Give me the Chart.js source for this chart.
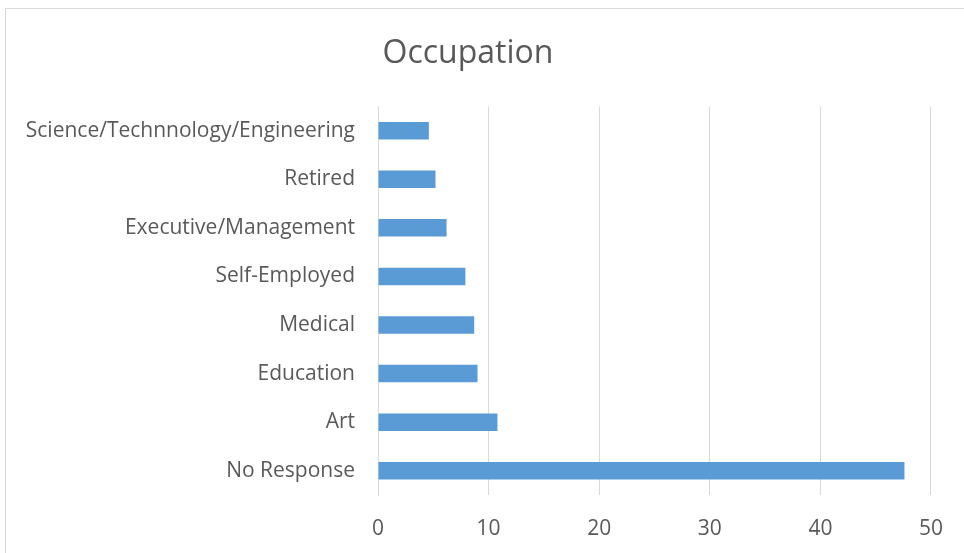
<!DOCTYPE html>
<html lang="en">
<head>
    <meta charset="UTF-8">
    <title>Occupation</title>
    <script src="https://cdn.jsdelivr.net/npm/chart.js"></script>
    <style>
        body { margin: 0; background: #ffffff; }
        .chart-box { position: relative; width: 964px; height: 553px; }
    </style>
</head>
<body>

<div class="chart-box">
    <canvas id="occChart"></canvas>
</div>

<script>
    // data
    const occupations = [
        "Science/Technnology/Engineering",
        "Retired",
        "Executive/Management",
        "Self-Employed",
        "Medical",
        "Education",
        "Art",
        "No Response"
    ];
    const counts = [4.6, 5.2, 6.2, 7.9, 8.7, 9.0, 10.8, 47.6];
    const xTicks = [0, 10, 20, 30, 40, 50];

    // light grey frame around the chart
    const framePlugin = {
        id: 'frame',
        beforeDraw(chart) {
            const ctx = chart.ctx;
            ctx.save();
            ctx.strokeStyle = '#d9d9d9';
            ctx.lineWidth = 1;
            ctx.strokeRect(5.5, 8.5, chart.width, chart.height);
            ctx.restore();
        }
    };

    const ctx = document.getElementById('occChart').getContext('2d');
    new Chart(ctx, {
        type: 'bar',
        data: {
            labels: occupations,
            datasets: [{
                label: 'Occupation',
                data: counts,
                backgroundColor: '#5b9bd5',
                categoryPercentage: 1.0,
                barPercentage: 0.36
            }]
        },
        options: {
            indexAxis: 'y',
            responsive: true,
            maintainAspectRatio: false,
            animation: false,
            layout: {
                padding: { left: 0, right: 28, top: 8, bottom: 0 }
            },
            plugins: {
                legend: { display: false },
                tooltip: { enabled: false },
                title: {
                    display: true,
                    text: 'Occupation',
                    color: '#595959',
                    font: { family: 'Open Sans', size: 32, weight: 'normal' },
                    padding: { top: 27, bottom: 33 }
                }
            },
            scales: {
                x: {
                    min: 0,
                    max: 50,
                    afterBuildTicks: scale => {
                        scale.ticks = xTicks.map(v => ({ value: v }));
                    },
                    afterFit: scale => { scale.height = 58; },
                    grid: { color: '#d9d9d9', lineWidth: 1, drawTicks: false },
                    border: { display: false },
                    ticks: {
                        color: '#595959',
                        padding: 21,
                        font: { family: 'Open Sans', size: 21 }
                    }
                },
                y: {
                    afterFit: scale => { scale.width = 378; },
                    grid: { display: false, drawTicks: false },
                    border: { display: true, color: '#d9d9d9', width: 1 },
                    ticks: {
                        color: '#595959',
                        padding: 23,
                        font: { family: 'Open Sans', size: 21 }
                    }
                }
            }
        },
        plugins: [framePlugin]
    });
</script>

</body>
</html>
